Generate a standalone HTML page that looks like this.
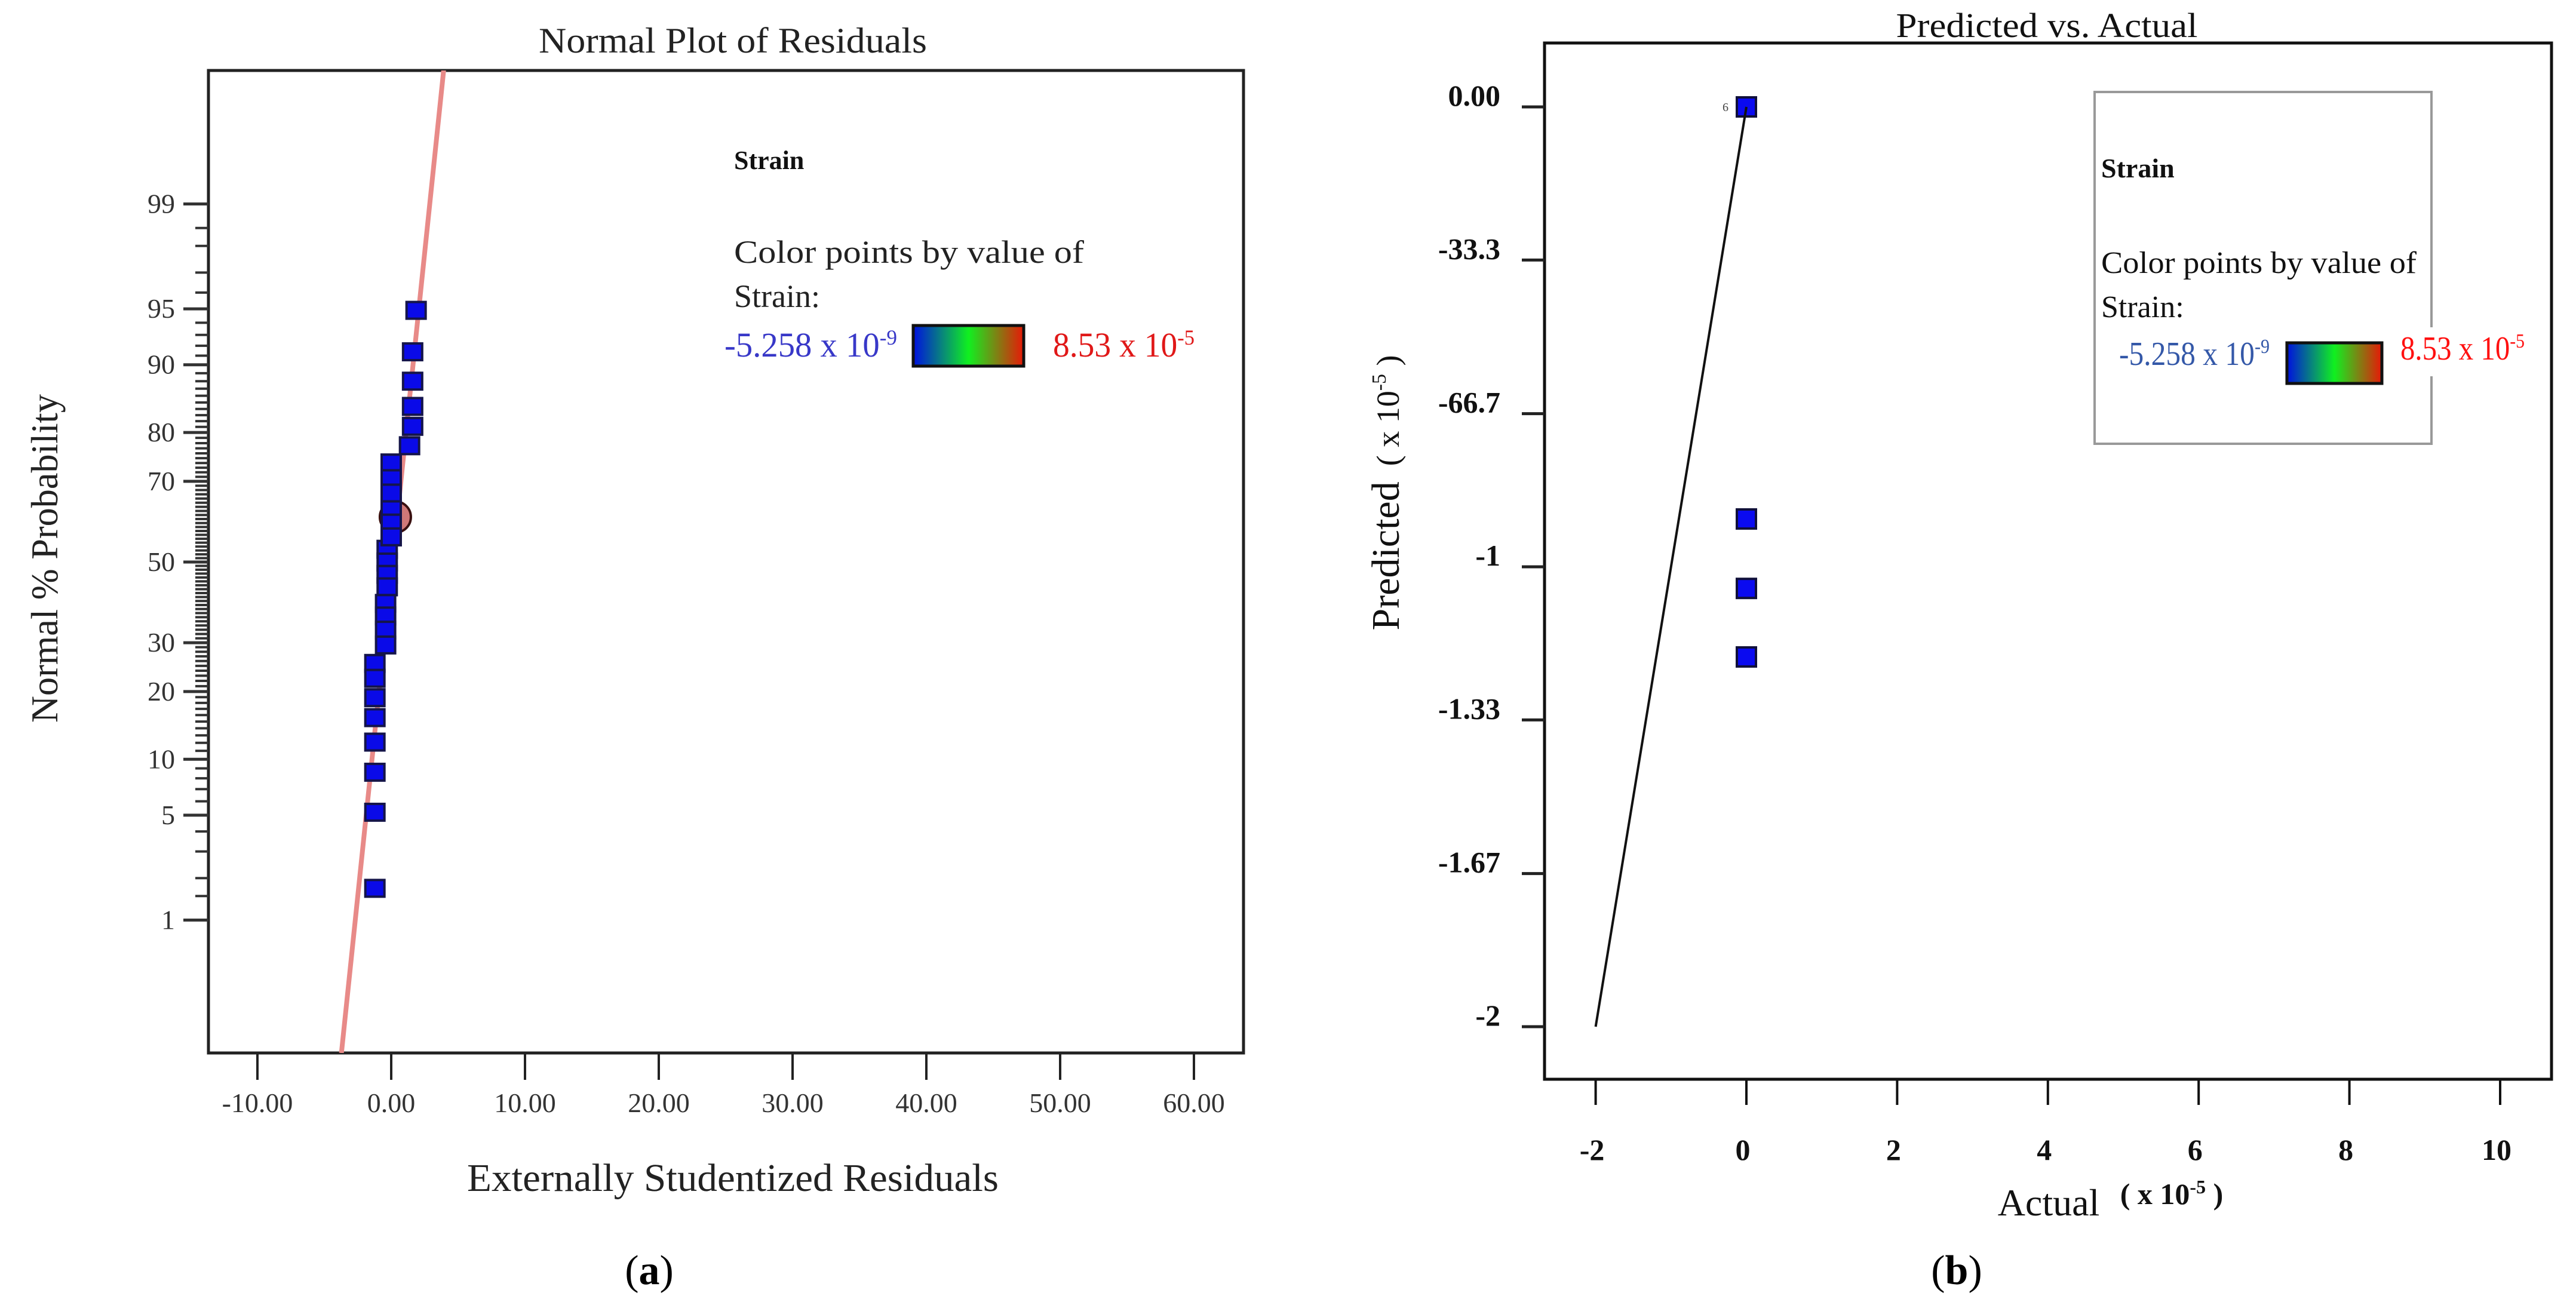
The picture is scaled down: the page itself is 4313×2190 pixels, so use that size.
<!DOCTYPE html>
<html><head><meta charset="utf-8"><style>
html,body{margin:0;padding:0;background:#fff;width:4313px;height:2190px;overflow:hidden}
svg{display:block}
text{font-family:"Liberation Serif",serif}
</style></head><body>
<svg id="fig" width="4313" height="2190" viewBox="0 0 4313 2190" xmlns="http://www.w3.org/2000/svg">
<defs>
<linearGradient id="grad" x1="0" x2="1" y1="0" y2="0">
<stop offset="0" stop-color="#0010e0"/><stop offset="0.5" stop-color="#10f020"/><stop offset="1" stop-color="#e81808"/>
</linearGradient>
</defs>
<rect width="4313" height="2190" fill="#fff"/>

<g>
<text x="1227" y="88" font-size="60" text-anchor="middle" textLength="650" lengthAdjust="spacingAndGlyphs" fill="#222">Normal Plot of Residuals</text>
<rect x="349" y="118" width="1733" height="1645" fill="none" stroke="#222" stroke-width="5"/>
<g id="a-yticks"></g>
<g id="a-xticks"></g>
<text x="1227" y="1994" font-size="66" text-anchor="middle" textLength="890" lengthAdjust="spacingAndGlyphs" fill="#222">Externally Studentized Residuals</text>
<text x="0" y="0" font-size="64" text-anchor="middle" textLength="550" lengthAdjust="spacingAndGlyphs" fill="#222" transform="translate(96,935) rotate(-90)">Normal % Probability</text>
<text x="1229" y="283" font-size="44" font-weight="bold" fill="#111">Strain</text>
<text x="1229" y="440" font-size="54" textLength="586" lengthAdjust="spacingAndGlyphs" fill="#222">Color points by value of</text>
<text x="1229" y="514" font-size="54" fill="#222">Strain:</text>
<text x="1213" y="597" font-size="58" fill="#3838c8" textLength="289" lengthAdjust="spacingAndGlyphs">-5.258 x 10<tspan font-size="36" dy="-20">-9</tspan></text>
<rect x="1529" y="545" width="185" height="68" fill="url(#grad)" stroke="#111" stroke-width="5"/>
<text x="1763" y="597" font-size="58" fill="#e01818" textLength="237" lengthAdjust="spacingAndGlyphs">8.53 x 10<tspan font-size="36" dy="-20">-5</tspan></text>
<g id="a-marks"></g>
<text x="1087" y="2150" font-size="70" text-anchor="middle" fill="#000">(<tspan font-weight="bold">a</tspan>)</text>
</g>

<g>
<text x="3427" y="62" font-size="58" text-anchor="middle" textLength="505" lengthAdjust="spacingAndGlyphs" fill="#111">Predicted vs. Actual</text>
<rect x="2586" y="72" width="1686" height="1735" fill="none" stroke="#111" stroke-width="5"/>
<g id="b-yticks"></g>
<g id="b-xticks"></g>
<rect x="3507" y="154" width="564" height="589" fill="#fff" stroke="#999" stroke-width="4"/>
<text x="3518" y="297" font-size="46" font-weight="bold" fill="#111">Strain</text>
<text x="3518" y="457" font-size="52" textLength="528" lengthAdjust="spacingAndGlyphs" fill="#111">Color points by value of</text>
<text x="3518" y="531" font-size="52" fill="#111">Strain:</text>
<text x="3548" y="611" font-size="56" fill="#3458a8" textLength="252" lengthAdjust="spacingAndGlyphs">-5.258 x 10<tspan font-size="34" dy="-20">-9</tspan></text>
<rect x="3829" y="574" width="159" height="68" fill="url(#grad)" stroke="#111" stroke-width="5"/>
<rect x="4002" y="548" width="132" height="82" fill="#fff"/>
<text x="4019" y="602" font-size="56" fill="#ff1010" textLength="208" lengthAdjust="spacingAndGlyphs">8.53 x 10<tspan font-size="34" dy="-20">-5</tspan></text>
<g id="b-marks"></g>
<text x="0" y="0" font-size="66" text-anchor="middle" fill="#111" transform="translate(2342,825) rotate(-90)">Predicted<tspan font-size="54" dx="26">( x 10</tspan><tspan font-size="34" dy="-22">-5</tspan><tspan font-size="54" dy="22"> )</tspan></text>
<text x="3430" y="2035" font-size="64" text-anchor="middle" fill="#111">Actual</text>
<text x="3636" y="2016" font-size="50" text-anchor="middle" font-weight="bold" fill="#111">( x 10<tspan font-size="32" dy="-18">-5</tspan><tspan dy="18"> )</tspan></text>
<text x="3276" y="2150" font-size="70" text-anchor="middle" fill="#000">(<tspan font-weight="bold">b</tspan>)</text>
</g>
</svg>
<script>
var aResiduals = [1.86,1.6,1.6,1.6,1.6,1.37,0,0,0,0,0,0,-0.3,-0.3,-0.3,-0.3,-0.42,-0.42,-0.42,-0.42,-1.22,-1.22,-1.22,-1.22,-1.22,-1.22,-1.22,-1.22];
var aProbs = [94.9,91.4,88,84.4,81.1,77.5,74,70.6,67.3,63.3,60,56.5,53.3,50,46.8,43.6,39.4,36.3,32.9,29.5,25.5,22.5,18.9,15.6,12.1,8.6,5.2,1.7];
var aHighlightResidual = [0.31];
var aHighlightProb = [61.5];
var aLineResidual = [-3.72, 3.92];
var aLineZ = [-3.19, 3.195];
var aXTicks = [-10,0,10,20,30,40,50,60];
var aXTickLabels = ["-10.00","0.00","10.00","20.00","30.00","40.00","50.00","60.00"];
var aYTicks = [1,5,10,20,30,50,70,80,90,95,99];
var aYTickLabels = ["1","5","10","20","30","50","70","80","90","95","99"];

var bActual = [0,0,0,0];
var bPredicted = [0,-0.896,-1.047,-1.196];
var bLineActual = [-2,0];
var bLinePredicted = [-2,0];
var bXTicks = [-2,0,2,4,6,8,10];
var bXTickLabels = ["-2","0","2","4","6","8","10"];
var bYTicks = [0,-0.333,-0.667,-1,-1.333,-1.667,-2];
var bYTickLabels = ["0.00","-33.3","-66.7","-1","-1.33","-1.67","-2"];

var NS = "http://www.w3.org/2000/svg";
function mk(tag, attrs, parent){var e=document.createElementNS(NS,tag);for(var k in attrs)e.setAttribute(k,attrs[k]);parent.appendChild(e);return e;}
function probit(p){
  var a=[-3.969683028665376e+01,2.209460984245205e+02,-2.759285104469687e+02,1.383577518672690e+02,-3.066479806614716e+01,2.506628277459239e+00];
  var b=[-5.447609879822406e+01,1.615858368580409e+02,-1.556989798598866e+02,6.680131188771972e+01,-1.328068155288572e+01];
  var c=[-7.784894002430293e-03,-3.223964580411365e-01,-2.400758277161838e+00,-2.549671010243111e+00,4.374664141464968e+00,2.938163982698783e+00];
  var d=[7.784695709041462e-03,3.224671290700398e-01,2.445134137142996e+00,3.754408661907416e+00];
  var pl=0.02425,q,r;
  if(p<pl){q=Math.sqrt(-2*Math.log(p));return (((((c[0]*q+c[1])*q+c[2])*q+c[3])*q+c[4])*q+c[5])/((((d[0]*q+d[1])*q+d[2])*q+d[3])*q+1);}
  if(p>1-pl){q=Math.sqrt(-2*Math.log(1-p));return -(((((c[0]*q+c[1])*q+c[2])*q+c[3])*q+c[4])*q+c[5])/((((d[0]*q+d[1])*q+d[2])*q+d[3])*q+1);}
  q=p-0.5;r=q*q;return (((((a[0]*r+a[1])*r+a[2])*r+a[3])*r+a[4])*r+a[5])*q/(((((b[0]*r+b[1])*r+b[2])*r+b[3])*r+b[4])*r+1);
}
function axA(v){return 655+v*22.4;}
function azY(z){return 941-z*257.7;}
function ayA(pct){return azY(probit(pct/100));}

var ayt=document.getElementById('a-yticks');
var minors=[1.5];
for(var i=2;i<=98;i++)minors.push(i);
minors.push(98.5);
minors.forEach(function(p){
  var y=ayA(p);
  var t=mk('line',{x1:327,x2:349,y1:y,y2:y,stroke:'#333','stroke-width':4},ayt);
  
  
});
aYTicks.forEach(function(p,i){
  var y=ayA(p);
  var t=mk('line',{x1:307,x2:349,y1:y,y2:y,stroke:'#333','stroke-width':5},ayt);
  
  
  var l=mk('text',{x:293,y:y+15,'font-size':46,'text-anchor':'end',fill:'#333'},ayt);
  l.textContent=aYTickLabels[i];
  
  
});
var axt=document.getElementById('a-xticks');
aXTicks.forEach(function(v,i){
  var x=axA(v);
  var t=mk('line',{x1:x,x2:x,y1:1763,y2:1808,stroke:'#222','stroke-width':4},axt);
  
  
  var l=mk('text',{x:x,y:1862,'font-size':46,'text-anchor':'middle',fill:'#333'},axt);
  l.textContent=aXTickLabels[i];
  
  
});
var am=document.getElementById('a-marks');
var cp=mk('clipPath',{id:'clipA'},am);
mk('rect',{x:349,y:118,width:1733,height:1645},cp);
var ln=mk('line',{x1:axA(aLineResidual[0]),y1:azY(aLineZ[0]),x2:axA(aLineResidual[1]),y2:azY(aLineZ[1]),stroke:'#e88a88','stroke-width':8,'clip-path':'url(#clipA)'},am);


aResiduals.forEach(function(r,i){
  var x=axA(r),y=ayA(aProbs[i]);
  var s=mk('rect',{x:x-16,y:y-14,width:32,height:28,fill:'#0a0ae8',stroke:'#15154a','stroke-width':4},am);
  
  
});
aHighlightResidual.forEach(function(r,i){
  var c=mk('circle',{cx:axA(r),cy:ayA(aHighlightProb[i]),r:26,fill:'#c86060','fill-opacity':0.85,stroke:'#3a1010','stroke-width':4},am);
  
  
});
aResiduals.forEach(function(r,i){
  if(r!==0)return;
  var x=axA(r),y=ayA(aProbs[i]);
  var s=mk('rect',{x:x-16,y:y-14,width:32,height:28,fill:'#0a0ae8',stroke:'#15154a','stroke-width':4},am);
  
  
});

function bx(v){return 2924+v*126.2;}
function by(v){return 179-v*770;}
var byt=document.getElementById('b-yticks');
bYTicks.forEach(function(v,i){
  var y=by(v);
  var t=mk('line',{x1:2548,x2:2586,y1:y,y2:y,stroke:'#222','stroke-width':5},byt);
  
  
  var l=mk('text',{x:2512,y:y-2,'font-size':50,'font-weight':'bold','text-anchor':'end',fill:'#111'},byt);
  l.textContent=bYTickLabels[i];
  
  
});
var bxt=document.getElementById('b-xticks');
bXTicks.forEach(function(v,i){
  var x=bx(v);
  var t=mk('line',{x1:x,x2:x,y1:1807,y2:1850,stroke:'#111','stroke-width':4},bxt);
  
  
  var l=mk('text',{x:x-6,y:1942,'font-size':50,'font-weight':'bold','text-anchor':'middle',fill:'#111'},bxt);
  l.textContent=bXTickLabels[i];
  
  
});
var bm=document.getElementById('b-marks');
bActual.forEach(function(a,i){
  var x=bx(a),y=by(bPredicted[i]);
  var s=mk('rect',{x:x-16,y:y-16,width:32,height:32,fill:'#0a0af0',stroke:'#10103a','stroke-width':4},bm);
  
  
});
var bl=mk('line',{x1:bx(bLineActual[0]),y1:by(bLinePredicted[0]),x2:bx(bLineActual[1]),y2:by(bLinePredicted[1]),stroke:'#111','stroke-width':4},bm);


var lab=mk('text',{x:bx(0)-40,y:by(0)+7,'font-size':20,fill:'#444'},bm);
lab.textContent='6';


</script>
</body></html>
